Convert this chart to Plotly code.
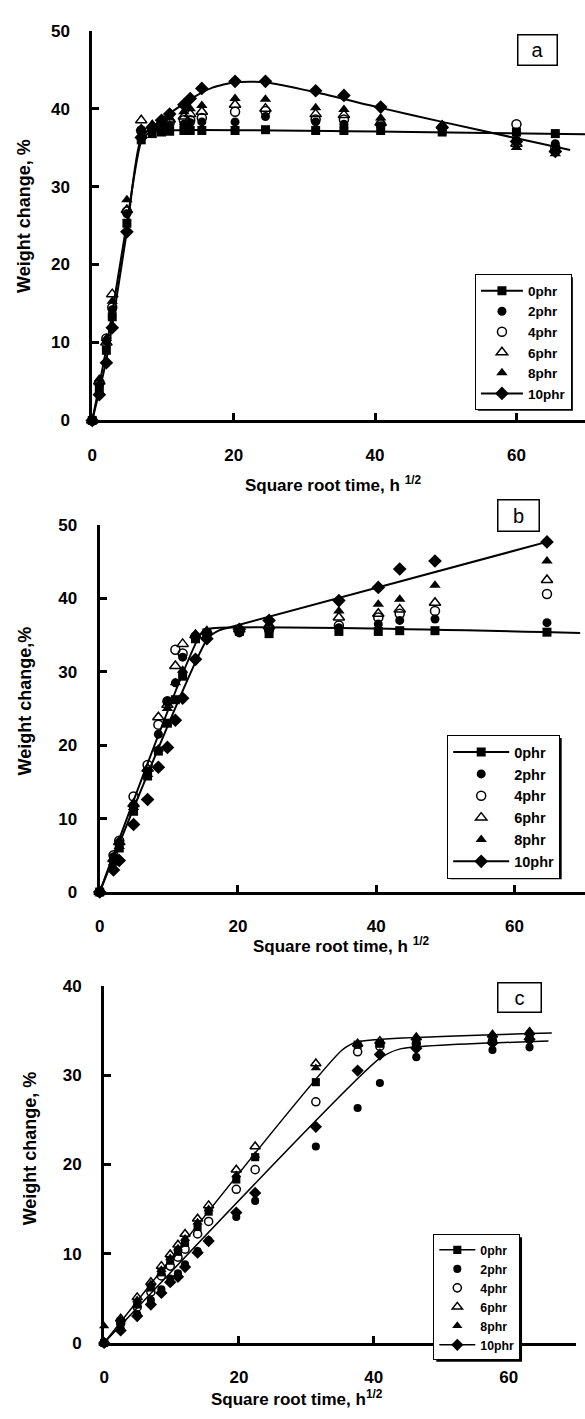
import plotly.graph_objects as go

W, H = 585, 1419
def fx(p): return p / W
def fy(p): return 1 - p / H

NAMES = ["0phr", "2phr", "4phr", "6phr", "8phr", "10phr"]

# ---------------- Panel a ----------------
x_a = [0, 1, 2, 2.83, 4.9, 6.93, 8.49, 9.8, 10.95, 12.96, 13.86, 15.5, 20.2, 24.5, 31.6, 35.6, 40.8, 49.5, 60, 65.5]
a_0 = [0, 4.0, 9.0, 13.3, 25.3, 36.0, 36.8, 37.0, 37.1, 37.2, 37.2, 37.2, 37.2, 37.3, 37.2, 37.2, 37.2, 37.0, 37.0, 36.8]
a_2 = [0, 4.5, 10.2, 14.2, 26.5, 37.0, 37.3, 37.6, 37.8, 38.0, 38.2, 38.3, 38.3, 39.0, 38.3, 38.0, 37.8, 37.3, 36.0, 35.5]
a_4 = [0, 4.8, 10.5, 14.5, 26.8, 37.2, 37.5, 37.8, 38.2, 38.5, 38.5, 38.8, 39.6, 39.7, 38.6, 38.6, 38.0, 37.6, 38.0, 35.0]
a_6 = [0, 5.0, 10.0, 16.2, 27.0, 38.5, 37.8, 38.2, 38.6, 39.0, 39.3, 39.6, 40.5, 40.0, 39.3, 39.2, 38.2, 37.8, 35.5, 34.8]
a_8 = [0, 5.3, 10.5, 15.3, 28.3, 37.5, 38.0, 38.4, 38.8, 39.6, 40.0, 40.4, 41.3, 41.2, 40.1, 39.9, 38.8, 37.9, 35.0, 34.2]
a_10 = [0, 3.3, 7.4, 11.9, 24.2, 36.3, 37.6, 38.5, 39.3, 40.5, 41.3, 42.6, 43.5, 43.5, 42.3, 41.7, 40.2, 37.6, 35.8, 34.5]
fit_a0_x = [0, 2, 4.9, 6.93, 8.0, 10, 69.7]
fit_a0_y = [0, 9.3, 25.4, 35.8, 36.9, 37.2, 36.7]
fit_a10_x = [0, 2, 4.9, 6.93, 9.8, 13.86, 17, 20.2, 24.5, 31.6, 40.8, 49.5, 60, 67.6]
fit_a10_y = [0, 7.8, 24.3, 36.2, 38.6, 41.2, 42.7, 43.4, 43.4, 42.1, 40.1, 38.3, 36.2, 34.7]

# ---------------- Panel b ----------------
x_b = [0, 2, 2.83, 4.9, 6.93, 8.49, 9.8, 10.95, 12, 13.86, 15.5, 20.2, 24.5, 34.6, 40.3, 43.4, 48.5, 64.7]
b_0 = [0, 4.2, 6.0, 11.0, 15.8, 19.2, 23.0, 26.2, 29.4, 34.5, 35.3, 35.5, 35.2, 35.5, 35.5, 35.6, 35.6, 35.4]
b_2 = [0, 4.8, 6.8, 11.8, 16.5, 21.5, 26.0, 28.5, 32.0, 34.5, 35.2, 35.3, 35.5, 36.0, 36.5, 37.0, 37.2, 36.7]
b_4 = [0, 5.0, 7.0, 13.0, 17.3, 22.8, 26.0, 33.0, 32.5, 34.8, 35.3, 35.5, 35.8, 36.3, 37.4, 37.9, 38.3, 40.6]
b_6 = [0, 4.5, 6.8, 12.0, 16.8, 23.8, 25.5, 30.8, 33.8, 35.0, 35.5, 35.8, 36.2, 37.4, 37.9, 38.5, 39.4, 42.5]
b_8 = [0, 4.0, 6.2, 11.5, 16.0, 19.5, 25.0, 28.5, 30.2, 35.2, 35.5, 35.8, 36.5, 38.3, 39.2, 39.9, 41.8, 45.1]
b_10 = [0, 3.0, 4.3, 9.2, 12.6, 17.0, 19.7, 23.4, 26.4, 31.7, 34.5, 35.8, 37.0, 39.7, 41.5, 44.0, 45.1, 47.7]
fit_b0_x = [0, 14.8, 16, 69.5]
fit_b0_y = [0, 35.4, 35.9, 35.3]
fit_b10_x = [0, 15.6, 17.2, 19, 64.7]
fit_b10_y = [0, 34.5, 35.6, 36.1, 47.7]

# ---------------- Panel c ----------------
x_c = [0, 2.45, 4.9, 6.93, 8.49, 9.8, 10.95, 12, 13.86, 15.5, 19.6, 22.4, 31.4, 37.6, 40.9, 46.3, 57.6, 63.1]
c_0 = [0, 2.4, 4.3, 6.2, 7.9, 9.2, 10.2, 11.2, 13.0, 14.7, 18.3, 20.8, 29.2, 33.4, 33.5, 33.8, 34.0, 34.3]
c_2 = [0, 1.6, 3.2, 4.8, 6.0, 7.2, 7.8, 8.8, 10.3, 11.5, 14.1, 15.9, 22.0, 26.3, 29.1, 32.0, 32.8, 33.1]
c_4 = [0, 2.2, 4.0, 5.7, 7.5, 8.6, 9.6, 10.5, 12.2, 13.6, 17.2, 19.4, 27.0, 32.6, 33.2, 33.5, 33.8, 34.0]
c_6 = [0, 2.7, 5.1, 6.8, 8.6, 9.9, 11.0, 12.2, 13.9, 15.4, 19.4, 22.0, 31.3, 33.5, 33.8, 34.2, 34.5, 34.8]
c_8 = [1.9, 2.6, 4.8, 6.6, 8.2, 9.5, 10.6, 11.7, 13.5, 15.0, 18.8, 21.0, 30.8, 33.4, 33.6, 34.2, 34.6, 34.9]
c_10 = [0, 1.4, 3.0, 4.3, 5.6, 6.8, 7.4, 8.5, 10.1, 11.4, 14.6, 16.8, 24.2, 30.5, 32.3, 33.0, 33.6, 34.0]
fit_c0_x = [0, 35.3, 37.5, 66.4]
fit_c0_y = [0, 32.8, 33.7, 34.7]
fit_c10_x = [0, 40.8, 43.8, 65.9]
fit_c10_y = [0, 31.8, 32.9, 33.8]

x_ticks = [0, 20, 40, 60]
y_ticks_ab = [0, 10, 20, 30, 40, 50]
y_ticks_c = [0, 10, 20, 30, 40]

FONT = "Arial, Liberation Sans, sans-serif"

def mstyle(name, scale=1.0):
    base = {
        "0phr": dict(symbol="square", size=9),
        "2phr": dict(symbol="circle", size=9),
        "4phr": dict(symbol="circle-open", size=9),
        "6phr": dict(symbol="triangle-up-open", size=10),
        "8phr": dict(symbol="triangle-up", size=10),
        "10phr": dict(symbol="diamond", size=10.5),
    }[name]
    d = dict(symbol=base["symbol"], size=base["size"] * scale, color="black")
    if "open" in base["symbol"]:
        d["line"] = dict(color="black", width=1.5)
    else:
        d["line"] = dict(width=0)
    return d

panels = [
    dict(x=x_a, vals=[a_0, a_2, a_4, a_6, a_8, a_10], fits=[(fit_a0_x, fit_a0_y), (fit_a10_x, fit_a10_y)],
         xa="x", ya="y", leg="legend", lw=2, ms=1.0),
    dict(x=x_b, vals=[b_0, b_2, b_4, b_6, b_8, b_10], fits=[(fit_b0_x, fit_b0_y), (fit_b10_x, fit_b10_y)],
         xa="x2", ya="y2", leg="legend2", lw=2, ms=1.0),
    dict(x=x_c, vals=[c_0, c_2, c_4, c_6, c_8, c_10], fits=[(fit_c0_x, fit_c0_y), (fit_c10_x, fit_c10_y)],
         xa="x3", ya="y3", leg="legend3", lw=1.5, ms=0.9),
]

fig = go.Figure()
for p in panels:
    for name, vals in zip(NAMES, p["vals"]):
        if name in ("0phr", "10phr"):
            fig.add_trace(go.Scatter(x=[None], y=[None], mode="lines+markers", name=name,
                                     marker=mstyle(name, p["ms"]), line=dict(color="black", width=p["lw"]),
                                     legend=p["leg"], xaxis=p["xa"], yaxis=p["ya"]))
        else:
            fig.add_trace(go.Scatter(x=p["x"], y=vals, mode="markers", name=name,
                                     marker=mstyle(name, p["ms"]), cliponaxis=False,
                                     legend=p["leg"], xaxis=p["xa"], yaxis=p["ya"]))
    for name, vals in zip(NAMES, p["vals"]):
        if name in ("0phr", "10phr"):
            fig.add_trace(go.Scatter(x=p["x"], y=vals, mode="markers", name=name, showlegend=False,
                                     marker=mstyle(name, p["ms"]), cliponaxis=False,
                                     legend=p["leg"], xaxis=p["xa"], yaxis=p["ya"]))
    for fxs, fys in p["fits"]:
        fig.add_trace(go.Scatter(x=fxs, y=fys, mode="lines", showlegend=False,
                                 line=dict(color="black", width=p["lw"], shape="spline", smoothing=0.6),
                                 cliponaxis=False, xaxis=p["xa"], yaxis=p["ya"]))

def xaxis(domain, rng, anchor):
    return dict(domain=domain, range=rng, anchor=anchor, tickvals=x_ticks, ticks="inside", ticklen=7,
                tickwidth=3, tickcolor="black", showline=True, linewidth=3, linecolor="black",
                showgrid=False, zeroline=False, ticklabelstandoff=17,
                tickfont=dict(family=FONT, size=17, color="black", weight="bold"))

def yaxis(domain, rng, ticks, anchor):
    return dict(domain=domain, range=rng, anchor=anchor, tickvals=ticks, ticks="inside", ticklen=7,
                tickwidth=3, tickcolor="black", showline=True, linewidth=3, linecolor="black",
                showgrid=False, zeroline=False, ticklabelstandoff=16,
                tickfont=dict(family=FONT, size=17, color="black", weight="bold"))

# legend geometry (pixels): name, left, top, font size, item width
LEG = [("legend", 474, 269, 13.5, 42), ("legend2", 446, 736, 14.5, 56), ("legend3", 432, 1242, 12.3, 36)]

def legend(x, y, size, iw):
    return dict(x=fx(x), y=fy(y), xanchor="left", yanchor="top", bgcolor="white", bordercolor="black",
                borderwidth=1, tracegroupgap=0, itemwidth=iw,
                font=dict(family=FONT, size=size, color="black", weight="bold"))

annotations = [
    dict(text="Square root time, h <sup>1/2</sup>", x=fx(331), y=fy(481), size=17, angle=0),
    dict(text="Square root time, h <sup>1/2</sup>", x=fx(339), y=fy(949), size=17, angle=0),
    dict(text="Square root time, h<sup>1/2</sup>", x=fx(295), y=fy(1408), size=17, angle=0),
    dict(text="Weight change, %", x=fx(19), y=fy(210), size=18, angle=-90),
    dict(text="Weight change,%", x=fx(20), y=fy(701), size=18, angle=-90),
    dict(text="Weight change, %", x=fx(25), y=fy(1155), size=18, angle=-90),
]
for a in annotations:
    sz = a.pop("size")
    ang = a.pop("angle")
    a.update(xref="paper", yref="paper", showarrow=False, textangle=ang,
             font=dict(family=FONT, size=sz, color="black", weight="bold"), xanchor="center", yanchor="middle")

label_font = dict(family=FONT, size=20, color="black")
for txt, cx, cy, w, h in [("a", 537, 41.5, 38, 29), ("b", 518, 513, 40, 30), ("c", 519, 1002, 42, 28)]:
    annotations.append(dict(text=txt, x=fx(cx), y=fy(cy), xref="paper", yref="paper", showarrow=False,
                            font=label_font, bordercolor="black", borderwidth=1.5, borderpad=0,
                            width=w, height=h, bgcolor="white", xanchor="center", yanchor="middle"))

# drop shadows behind legends, sized like plotly's legend box
shapes = []
for _, lx, ly, fs, iw in LEG:
    item_h = max(1.3 * fs, 16) + 3
    lh = 6 * item_h + 12
    lw = iw + 17 + 2.723 * fs
    shapes.append(dict(type="rect", xref="paper", yref="paper", x0=fx(lx + 3), x1=fx(lx + lw + 3),
                       y0=fy(ly + lh + 3), y1=fy(ly + 3), fillcolor="black", line=dict(width=0), layer="above"))

layout_legends = {name: legend(lx, ly, fs, iw) for name, lx, ly, fs, iw in LEG}

fig.update_layout(
    width=W, height=H, margin=dict(l=0, r=0, t=0, b=0),
    paper_bgcolor="white", plot_bgcolor="rgba(0,0,0,0)",
    xaxis=xaxis([fx(88), 1.0], [0, 69.7], "y"),
    yaxis=yaxis([fy(417), fy(22)], [0, 50], y_ticks_ab, "x"),
    xaxis2=xaxis([fx(95.5), 1.0], [0, 70.2], "y2"),
    yaxis2=yaxis([fy(895), fy(523)], [0, 50], y_ticks_ab, "x2"),
    xaxis3=xaxis([fx(100), fx(576)], [0, 70], "y3"),
    yaxis3=yaxis([fy(1352), fy(990)], [0, 40], y_ticks_c, "x3"),
    annotations=annotations,
    shapes=shapes,
    showlegend=True,
    **layout_legends,
)

fig.write_html("out.html")
